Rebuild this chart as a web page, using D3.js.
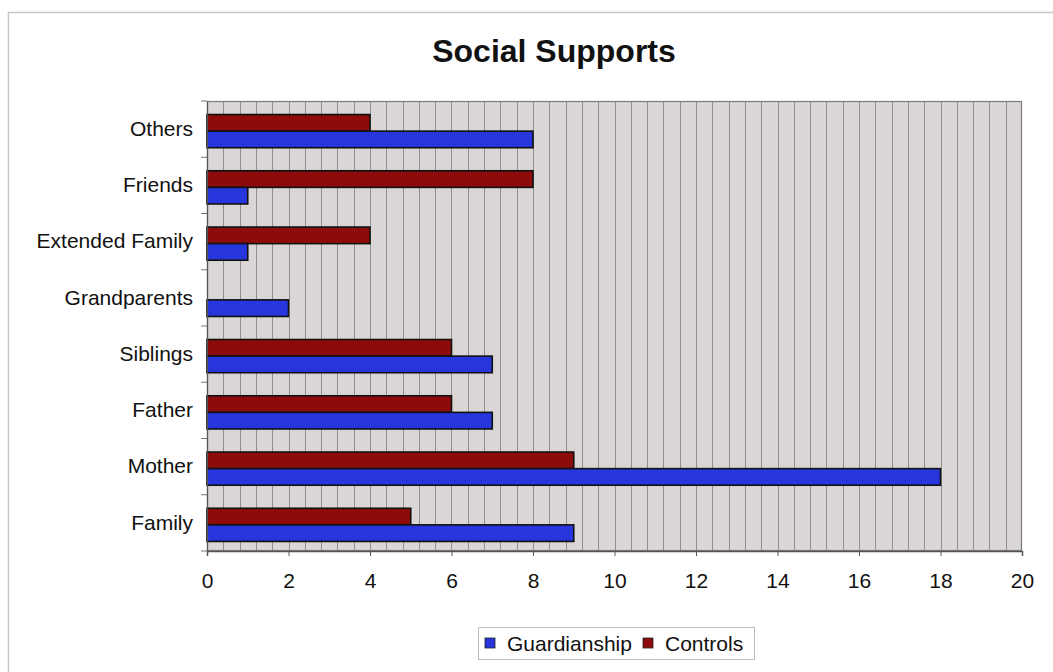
<!DOCTYPE html>
<html>
<head>
<meta charset="utf-8">
<script src="https://cdn.jsdelivr.net/npm/d3@7"></script>
<style>
  html, body { margin: 0; padding: 0; background: #ffffff; }
  svg { display: block; }
  text { font-family: "Liberation Sans", Arial, sans-serif; fill: #111; }
</style>
</head>
<body>
<svg id="chart" width="1053" height="672"></svg>
<script>
// Categories listed bottom to top as they appear on the axis
const categories = ["Family", "Mother", "Father", "Siblings", "Grandparents", "Extended Family", "Friends", "Others"];
const seriesNames = ["Controls", "Guardianship"];
const guardianship = [9, 18, 7, 7, 2, 1, 1, 8];
const controls = [5, 9, 6, 6, 0, 4, 8, 4];
const xTicks = [0, 2, 4, 6, 8, 10, 12, 14, 16, 18, 20];
const title = "Social Supports";

const colors = { Guardianship: "#2636dc", Controls: "#8e0b0b" };
const values = { Guardianship: guardianship, Controls: controls };

const svg = d3.select("#chart");

// Outer chart frame
svg.append("path")
  .attr("d", "M8.5,672 L8.5,12.5 L1053,12.5")
  .attr("fill", "none").attr("stroke", "#c8c8c8").attr("stroke-width", 1.5);

const plot = { left: 207, right: 1022, top: 101, bottom: 551 };

const x = d3.scaleLinear().domain([0, 20]).range([plot.left, plot.right]);
const y = d3.scaleBand()
  .domain(categories.slice().reverse())
  .range([plot.top, plot.bottom])
  .paddingInner(0.41).paddingOuter(0.205);
const ySub = d3.scaleBand().domain(seriesNames).range([0, y.bandwidth()]);

// Plot area background
svg.append("rect")
  .attr("x", plot.left).attr("y", plot.top)
  .attr("width", plot.right - plot.left).attr("height", plot.bottom - plot.top)
  .attr("fill", "#dad6d6");

// Vertical gridlines every 0.4 units
const gridVals = d3.range(1, 50).map(i => i * 0.4);
svg.append("g").selectAll("line").data(gridVals).join("line")
  .attr("x1", d => Math.round(x(d)) + 0.5).attr("x2", d => Math.round(x(d)) + 0.5)
  .attr("y1", plot.top).attr("y2", plot.bottom)
  .attr("stroke", "#8f8f8f").attr("stroke-width", 1);

// Plot border
svg.append("rect")
  .attr("x", plot.left + 0.5).attr("y", plot.top + 0.5)
  .attr("width", plot.right - plot.left - 1).attr("height", plot.bottom - plot.top - 1)
  .attr("fill", "none").attr("stroke", "#7c7c7c").attr("stroke-width", 1.2);

// Bars
const rows = [];
categories.forEach((c, i) => {
  seriesNames.forEach(s => rows.push({ cat: c, series: s, value: values[s][i] }));
});
svg.append("g").selectAll("rect").data(rows.filter(d => d.value > 0)).join("rect")
  .attr("x", x(0))
  .attr("y", d => y(d.cat) + ySub(d.series) + 2)
  .attr("width", d => x(d.value) - x(0))
  .attr("height", ySub.bandwidth())
  .attr("fill", d => colors[d.series])
  .attr("stroke", "#111")
  .attr("stroke-width", 1.6);

// X axis
const xAxis = svg.append("g")
  .attr("transform", `translate(0,${plot.bottom})`)
  .call(d3.axisBottom(x).tickValues(xTicks).tickSize(5).tickPadding(17).tickFormat(d3.format("d")));
xAxis.select(".domain").attr("stroke", "#555").attr("stroke-width", 1.5);
xAxis.selectAll(".tick line").attr("stroke", "#555");
xAxis.selectAll("text").attr("font-size", 21).attr("fill", "#111")
  .style("font-family", "'Liberation Sans', Arial, sans-serif");

// Y axis
const yAxis = svg.append("g")
  .attr("transform", `translate(${plot.left},0)`)
  .call(d3.axisLeft(y).tickSize(0).tickPadding(14));
yAxis.select(".domain").attr("stroke", "#555").attr("stroke-width", 1.2);
yAxis.selectAll("text").attr("font-size", 21).attr("fill", "#111")
  .style("font-family", "'Liberation Sans', Arial, sans-serif");

// Category boundary ticks on the y axis
const bounds = d3.range(categories.length + 1).map(i => plot.top + i * y.step());
svg.append("g").selectAll("line").data(bounds).join("line")
  .attr("x1", plot.left - 6).attr("x2", plot.left)
  .attr("y1", d => d).attr("y2", d => d)
  .attr("stroke", "#777");

// Title
svg.append("text")
  .attr("x", 554).attr("y", 62)
  .attr("text-anchor", "middle")
  .attr("font-size", 32).attr("font-weight", "bold")
  .text(title);

// Legend
const legend = svg.append("g").attr("transform", "translate(478,627)");
legend.append("rect")
  .attr("x", 0.5).attr("y", 0.5).attr("width", 276).attr("height", 32)
  .attr("fill", "#fff").attr("stroke", "#bdbdbd");
const legendItems = [
  { name: "Guardianship", x: 7 },
  { name: "Controls", x: 165 }
];
legendItems.forEach(item => {
  legend.append("rect")
    .attr("x", item.x).attr("y", 11).attr("width", 10).attr("height", 10)
    .attr("fill", colors[item.name]).attr("stroke", "#222").attr("stroke-width", 0.8);
  legend.append("text")
    .attr("x", item.x + 22).attr("y", 24)
    .attr("font-size", 21)
    .text(item.name);
});
</script>
</body>
</html>
